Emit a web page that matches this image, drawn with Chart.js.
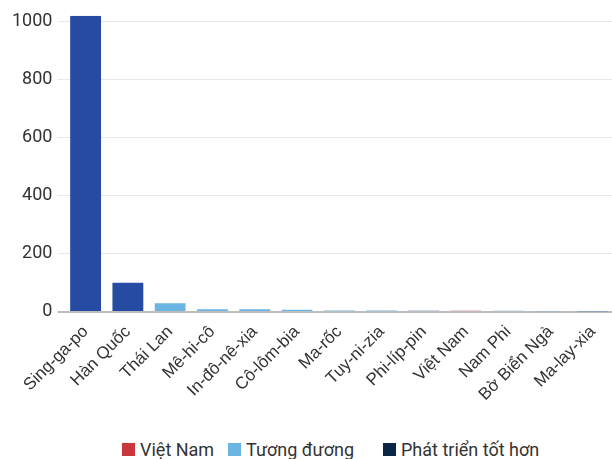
<!DOCTYPE html>
<html>
<head>
<meta charset="utf-8">
<script src="https://cdn.jsdelivr.net/npm/chart.js@4"></script>
<style>
  html, body { margin: 0; padding: 0; overflow: hidden; background: #fff; }
  #wrap { position: relative; width: 614px; height: 459px; }
  #chartBox { position: absolute; left: 0; top: 0; width: 614px; height: 425px; }
  .legend-item { position: absolute; top: 439px; display: flex; align-items: center;
    font-family: Roboto, sans-serif; font-size: 18px; color: #333; white-space: nowrap; }
  .legend-item span.box { display: inline-block; width: 13px; height: 13px; margin-right: 5px; }
</style>
</head>
<body>
<div id="wrap">
  <div id="chartBox"><canvas id="barChart"></canvas></div>
  <div id="legend"></div>
</div>
<script>
// categories and values
const countries = ["Sing-ga-po", "Hàn Quốc", "Thái Lan", "Mê-hi-cô", "In-đô-nê-xia", "Cô-lôm-bia",
    "Ma-rốc", "Tuy-ni-zia", "Phi-líp-pin", "Việt Nam", "Nam Phi", "Bờ Biển Ngà", "Ma-lay-xia"];
const values = [1020, 100, 30, 9, 9, 7, 4.5, 4.5, 4, 4, 4, 2, 2];
// group of each country: "vn" = Việt Nam, "eq" = Tương đương, "better" = Phát triển tốt hơn
const groups = ["better", "better", "eq", "eq", "eq", "eq", "eq", "eq", "better", "vn", "eq", "eq", "better"];
const yTicks = [0, 200, 400, 600, 800, 1000];

const legendNames = ["Việt Nam", "Tương đương", "Phát triển tốt hơn"];
const legendColors = ["#c9363e", "#6bb5e3", "#0b2547"];
const legendLeft = [122, 228, 383];

const barColors = { vn: "#cc3a40", eq: "#6bb5e3", better: "#254ca2" };

// Legend (HTML)
const legendEl = document.getElementById("legend");
legendNames.forEach((name, i) => {
    const item = document.createElement("div");
    item.className = "legend-item";
    item.style.left = legendLeft[i] + "px";
    item.innerHTML = `<span class="box" style="background:${legendColors[i]}"></span>${name}`;
    legendEl.appendChild(item);
});

const ctx = document.getElementById("barChart").getContext("2d");
new Chart(ctx, {
    type: "bar",
    data: {
        labels: countries,
        datasets: [{
            data: values,
            backgroundColor: groups.map(g => barColors[g]),
            borderWidth: 0,
            categoryPercentage: 1,
            barPercentage: 0.73
        }]
    },
    options: {
        responsive: true,
        maintainAspectRatio: false,
        animation: false,
        layout: { padding: { left: 7, top: 6, right: 0, bottom: 18 } },
        plugins: {
            legend: { display: false },
            tooltip: { enabled: false }
        },
        scales: {
            x: {
                grid: { display: false },
                border: { display: false },
                ticks: {
                    minRotation: 45,
                    maxRotation: 45,
                    autoSkip: false,
                    padding: 2,
                    color: "#333",
                    font: { family: "'Liberation Sans', Arial, sans-serif", size: 17 }
                }
            },
            y: {
                min: 0,
                max: Math.max(...values),
                afterBuildTicks: scale => {
                    scale.ticks = yTicks.map(v => ({ value: v }));
                },
                border: { display: false },
                grid: {
                    tickLength: 7,
                    color: c => c.tick && c.tick.value === 0 ? "#bdbdbd" : "#e8e8e8",
                    lineWidth: c => c.tick && c.tick.value === 0 ? 2 : 1
                },
                ticks: {
                    padding: 5,
                    color: "#333",
                    font: { family: "Roboto", size: 18 },
                    callback: v => String(v)
                }
            }
        }
    }
});
</script>
</body>
</html>
